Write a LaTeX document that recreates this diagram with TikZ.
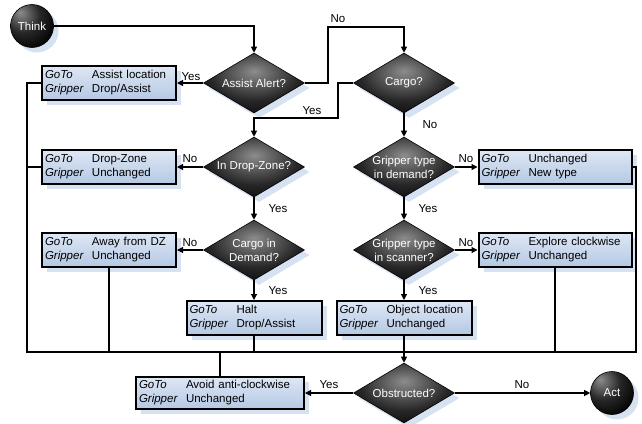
\documentclass[tikz,border=0pt]{standalone}
\usepackage{fontspec}
\setmainfont{Liberation Sans}
\usetikzlibrary{shapes.geometric,arrows.meta,shadows}
\definecolor{shblue}{RGB}{214,225,241}
\definecolor{boxtop}{RGB}{222,231,244}
\definecolor{boxbot}{RGB}{180,200,228}
\pgfdeclareradialshading{ballsh}{\pgfpoint{-14bp}{16bp}}{color(0bp)=(black!45); color(20bp)=(black!85); color(38bp)=(black); color(80bp)=(black)}
\pgfdeclareradialshading{diash}{\pgfpoint{0bp}{10bp}}{color(0bp)=(black!45); color(22bp)=(black!85); color(40bp)=(black); color(80bp)=(black)}
\newcommand{\gbox}[2]{\makebox[47pt][l]{\textit{GoTo}}#1\\\makebox[47pt][l]{\textit{Gripper}}#2}
\begin{document}
\begin{tikzpicture}[x=1pt,y=-1pt,
  font=\fontsize{11.5}{14}\selectfont,
  shad/.style={drop shadow={shadow xshift=5pt,shadow yshift=-5pt,fill=shblue,opacity=1}},
  actbox/.style={shad,rectangle,draw=black,line width=2pt,top color=boxtop,bottom color=boxbot,inner xsep=3pt,inner ysep=2pt,minimum height=34pt,align=left},
  dia/.style={shad,diamond,inner sep=0pt,minimum width=101pt,minimum height=60pt,shading=diash,draw=black,line width=0.6pt},
  dtext/.style={text=white,align=center,inner sep=0pt},
  term/.style={shad,circle,minimum size=43pt,inner sep=0pt,shading=ballsh,draw=black,line width=0.6pt,text=white},
  arr/.style={line width=1.1pt,-{Triangle[length=6pt,width=6pt]}},
  ln/.style={line width=1.1pt},
  lab/.style={inner sep=0pt}
]
\useasboundingbox (0,0) rectangle (642,423);

% terminals
\node[term] (think) at (32,26) {Think};
\node[term] (act) at (612,393) {Act};

% decisions
\node[dia] (ad) at (254,83) {};
\node[dtext] at (ad) {Assist Alert?};
\node[dia] (cg) at (404,83) {};
\node[dtext] at (cg) {Cargo?};
\node[dia] (dz) at (254,167) {};
\node[dtext] at (dz) {In Drop-Zone?};
\node[dia] (cd) at (254,250) {};
\node[dtext] at (cd) {Cargo in\\Demand?};
\node[dia] (gd) at (404,167) {};
\node[dtext] at (gd) {Gripper type\\in demand?};
\node[dia] (gs) at (404,250) {};
\node[dtext] at (gs) {Gripper type\\in scanner?};
\node[dia] (obs) at (404,393) {};
\node[dtext] at (obs) {Obstructed?};

% action boxes
\node[actbox,text width=128pt] (ab) at (109,83) {\gbox{Assist location}{Drop/Assist}};
\node[actbox,text width=128pt] (dzb) at (109,167) {\gbox{Drop-Zone}{Unchanged}};
\node[actbox,text width=128pt] (awb) at (109,250) {\gbox{Away from DZ}{Unchanged}};
\node[actbox,text width=129pt] (halt) at (254,318) {\gbox{Halt}{Drop/Assist}};
\node[actbox,text width=129pt] (ob) at (404,318) {\gbox{Object location}{Unchanged}};
\node[actbox,text width=147pt] (ub) at (555,167) {\gbox{Unchanged}{New type}};
\node[actbox,text width=147pt] (eb) at (555,250) {\gbox{Explore clockwise}{Unchanged}};
\node[actbox,text width=162pt,minimum height=32pt] (avb) at (220,393) {\gbox{Avoid anti-clockwise}{Unchanged}};

% helper coordinates
\coordinate (n1) at (328,27);
\coordinate (y1) at (338,118);
\coordinate (bl) at (27,352);
\coordinate (br) at (636,352);

% connectors
\draw[arr] (think.east) -| (ad.north);
\draw[arr] (ad.west) -- (ab.east);
\draw[arr] (ad.east) -| (n1) -| (cg.north);
\draw[arr] (cg.west) -| (y1) -| (dz.north);
\draw[arr] (cg.south) -- (gd.north);
\draw[arr] (dz.west) -- (dzb.east);
\draw[arr] (dz.south) -- (cd.north);
\draw[arr] (cd.west) -- (awb.east);
\draw[arr] (cd.south) -- (halt.north);
\draw[arr] (gd.east) -- (ub.west);
\draw[arr] (gd.south) -- (gs.north);
\draw[arr] (gs.east) -- (eb.west);
\draw[arr] (gs.south) -- (ob.north);

% collecting bus
\draw[ln] (ab.west) -| (bl) -- (br) |- (ub.east);
\draw[ln] (dzb.west) -- (dzb.west -| bl);
\draw[ln] (awb.south) -- (awb.south |- bl);
\draw[ln] (halt.south) -- (halt.south |- bl);
\draw[ln] (eb.south) -- (eb.south |- bl);
\draw[ln] (avb.north) -- (avb.north |- bl);
\draw[arr] (ob.south) -- (obs.north);
\draw[arr] (obs.west) -- (avb.east);
\draw[arr] (obs.east) -- (act.west);

% labels
\node[lab] at (191,77) {Yes};
\node[lab] at (338,19) {No};
\node[lab] at (312,111) {Yes};
\node[lab] at (430,125) {No};
\node[lab] at (190,159) {No};
\node[lab] at (278,209) {Yes};
\node[lab] at (190,243) {No};
\node[lab] at (278,291) {Yes};
\node[lab] at (466,159) {No};
\node[lab] at (428,209) {Yes};
\node[lab] at (466,243) {No};
\node[lab] at (428,291) {Yes};
\node[lab] at (329,385) {Yes};
\node[lab] at (522,385) {No};
\end{tikzpicture}
\end{document}
